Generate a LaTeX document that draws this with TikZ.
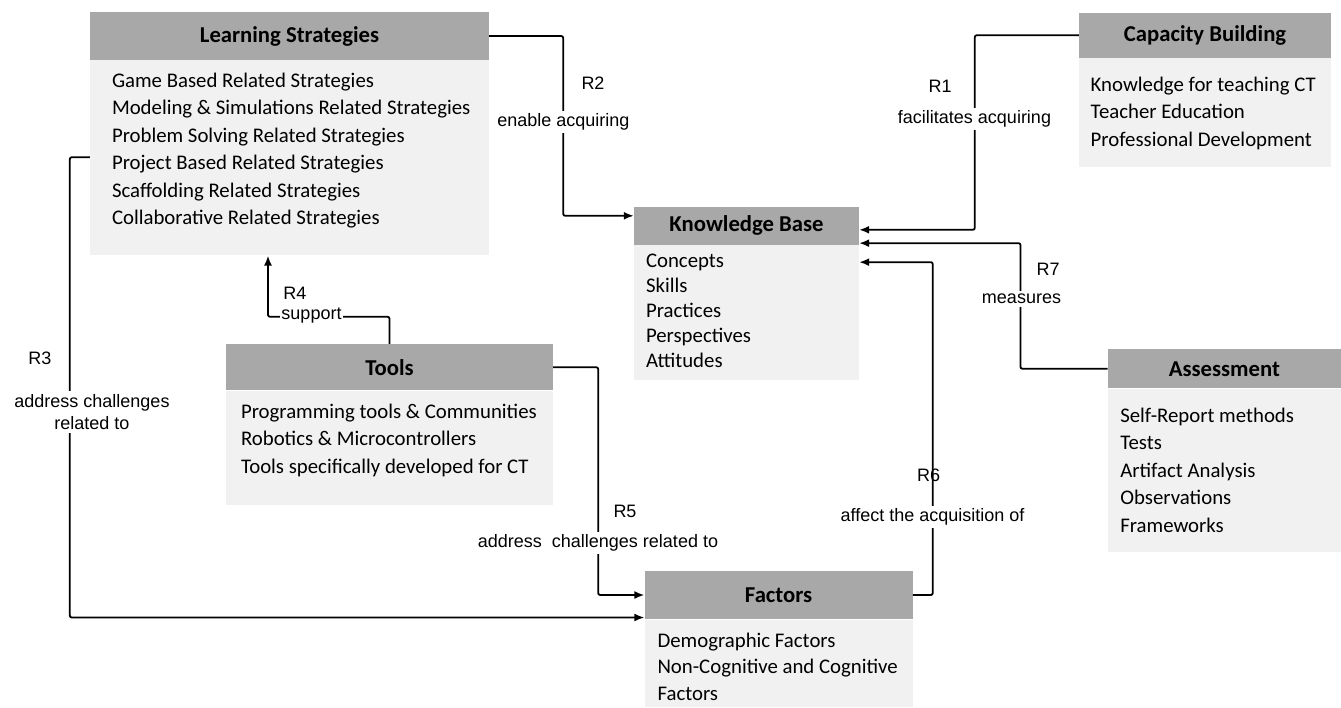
\documentclass[tikz,border=0pt]{standalone}
\usepackage{fontspec}
\setmainfont{Carlito}
\newfontfamily\lblfont{Liberation Sans}
\usepackage{xcolor}
\usetikzlibrary{arrows.meta,positioning}
\definecolor{hdrgray}{RGB}{168,168,168}
\definecolor{bodygray}{RGB}{241,241,241}

\begin{document}
\begin{tikzpicture}[
  x=1pt, y=-1pt,
  hdr/.style={fill=hdrgray,inner sep=0pt,font=\fontsize{22.7}{27}\selectfont\bfseries},
  body/.style={fill=bodygray,inner sep=0pt,font=\fontsize{20.8}{27.5}\selectfont,
    execute at begin node={\leftskip=#1\relax\rightskip=0pt plus 1fil\relax\spaceskip=0pt\relax}},
  conn/.style={line width=1.8pt,rounded corners=2pt,-{Latex[length=10pt,width=8pt]}},
  lbl/.style={font=\lblfont\fontsize{18}{22}\selectfont,inner sep=1pt,align=center},
  onlink/.style={lbl,fill=white,inner sep=3pt}
]
  \useasboundingbox (0,0) rectangle (1341,707);

  % Learning strategies
  \node[hdr,minimum width=399pt,minimum height=48pt] (lsh) at (289.5,36) {Learning Strategies};
  \node[body=22pt,below=0pt of lsh,text width=399pt,text height=27pt,text depth=168pt] (lsb) {%
    Game Based Related Strategies\\
    Modeling \& Simulations Related Strategies\\
    Problem Solving Related Strategies\\
    Project Based Related Strategies\\
    Scaffolding Related Strategies\\
    Collaborative Related Strategies};

  % Capacity building
  \node[hdr,minimum width=252pt,minimum height=45pt] (cbh) at (1205,35.2) {Capacity Building};
  \node[body=11.7pt,below=0pt of cbh,text width=252pt,text height=33pt,text depth=76pt] (cbb) {%
    Knowledge for teaching CT\\
    Teacher Education\\
    Professional Development};

  % Knowledge base
  \node[hdr,minimum width=225pt,minimum height=38.3pt] (kbh) at (746.5,225.8) {Knowledge Base};
  \node[body=12pt,below=0pt of kbh,text width=225pt,text height=22pt,text depth=113pt,
        font=\fontsize{20.8}{25}\selectfont] (kbb) {%
    Concepts\\
    Skills\\
    Practices\\
    Perspectives\\
    Attitudes};

  % Tools
  \node[hdr,minimum width=327pt,minimum height=46.5pt] (tlh) at (389.5,367.2) {Tools};
  \node[body=15pt,below=0pt of tlh,text width=327pt,text height=27.5pt,text depth=86.5pt] (tlb) {%
    Programming tools \& Communities\\
    Robotics \& Microcontrollers\\
    Tools specifically developed for CT};

  % Assessment
  \node[hdr,minimum width=233.3pt,minimum height=39pt] (ash) at (1224.35,368.8) {Assessment};
  \node[body=12.6pt,below=0pt of ash,text width=233.3pt,text height=33.7pt,text depth=129.7pt] (asb) {%
    Self-Report methods\\
    Tests\\
    Artifact Analysis\\
    Observations\\
    Frameworks};

  % Factors
  \node[hdr,minimum width=268pt,minimum height=48.6pt] (fch) at (778.55,595) {Factors};
  \node[body=13pt,below=0pt of fch,text width=268pt,text height=27.7pt,text depth=59.7pt,
        font=\fontsize{20.8}{26.3}\selectfont] (fcb) {%
    Demographic Factors\\
    Non-Cognitive and Cognitive\\
    Factors};

  % Relations
  \draw[conn] (lsh.east) -- ++(74,0) |- ([yshift=10pt]kbh.west);
  \draw[conn] (cbh.west) -- ++(-104,0) |- ([yshift=-4pt]kbh.east);
  \draw[conn] ([yshift=-97pt]lsb.north west) -- ++(-20,0) |- ([yshift=2pt]fch.south west);
  \draw[conn] (tlh.north) -- ++(0,-27) -| ([xshift=-21.5pt]lsb.south);
  \draw[conn] (tlh.east) -- ++(45,0) |- (fch.west);
  \draw[conn] (fch.east) -- ++(20,0) |- ([yshift=-17pt]kbb.north east);
  \draw[conn] (ash.west) -- ++(-87,0) |- ([yshift=2pt]kbh.south east);

  % Relation labels
  \node[lbl] (r2) at (593,83) {R2};
  \node[onlink] (r2t) at (563.3,122) {enable acquiring};
  \node[lbl] (r1) at (940,86) {R1};
  \node[onlink] (r1t) at (974.5,119) {facilitates acquiring};
  \node[lbl] (r3) at (40,358) {R3};
  \node[onlink] (r3t) at (92,412) {address challenges\\related to};
  \node[lbl] (r4) at (295,293) {R4};
  \node[onlink,inner xsep=1pt] (r4t) at (311.5,316) {support};
  \node[lbl] (r5) at (625,511) {R5};
  \node[onlink] (r5t) at (598,543) {address\ \ challenges related to};
  \node[lbl] (r6) at (928.5,475) {R6};
  \node[onlink] (r6t) at (932.6,517) {affect the acquisition of};
  \node[lbl] (r7) at (1048,269) {R7};
  \node[onlink] (r7t) at (1021.5,299) {measures};
\end{tikzpicture}
\end{document}
